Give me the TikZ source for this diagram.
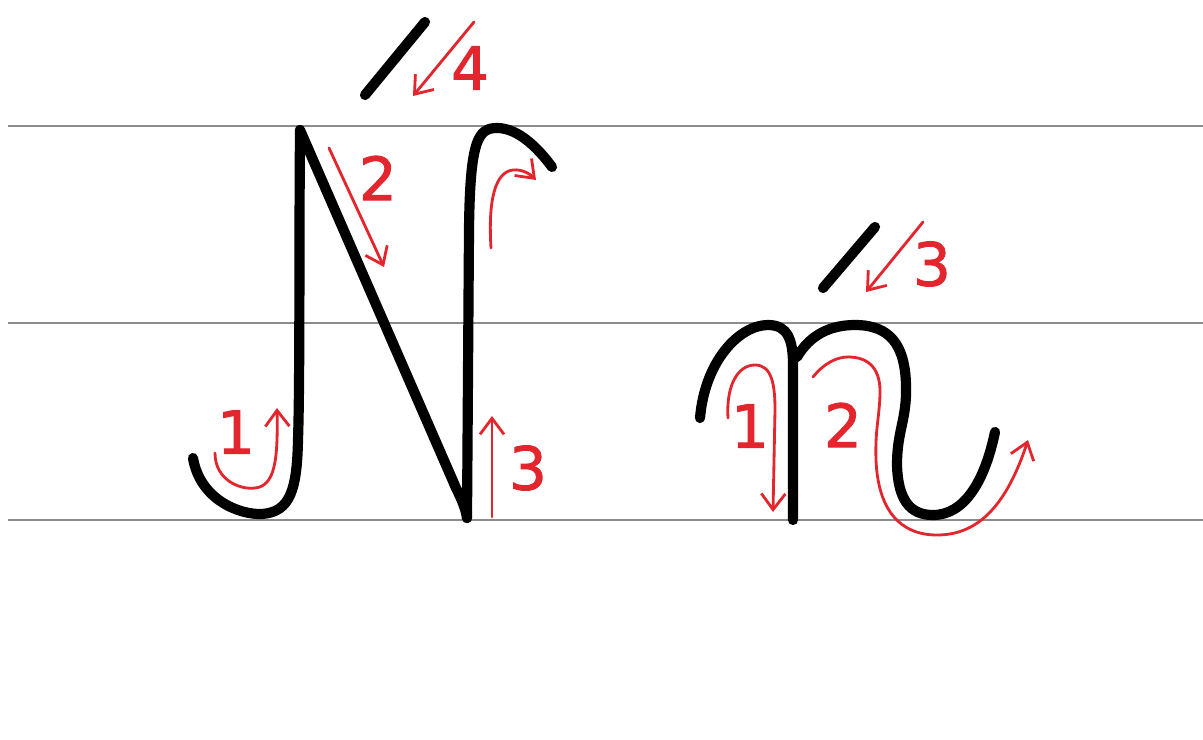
\documentclass[tikz,border=0pt]{standalone}
\usepackage{fontspec}
\setmainfont{DejaVu Sans}
\newfontfamily\digitfont[FakeBold=1.4]{DejaVu Sans}
\usepackage{tikz}
\usetikzlibrary{arrows.meta}
\definecolor{penred}{HTML}{E3262D}
\definecolor{ruleg}{HTML}{8C8C8C}
\tikzset{
  guide/.style={draw=ruleg,line width=0.8pt},
  ink/.style={draw=black,line width=5.8pt,line cap=round,line join=round},
  order/.style={draw=penred,line width=1.6pt,line cap=round,-{Straight Barb[length=3.2mm,width=4.8mm,line width=1.6pt]}},
  num/.style={text=penred,font=\digitfont\fontsize{34}{38}\selectfont,inner sep=0pt},
}
\begin{document}
\begin{tikzpicture}[x=0.02cm,y=-0.02cm]
  \useasboundingbox (0,0) rectangle (1203,740);
  % guide lines
  \foreach \yy in {126,323,520}
    \draw[guide] (8,\yy) -- (1203,\yy);
  % capital N
  \draw[ink] (193,458) .. controls (200,500) and (240,515) .. (262,514)
    .. controls (290,512) and (297,490) .. (298,440)
    .. controls (300,380) and (299,250) .. (300,130);
  \draw[ink] (300,130) -- (456,488) .. controls (462,500) and (466,510) .. (467,518);
  \draw[ink] (467,518) -- (469,230) .. controls (470,140) and (478,128) .. (497,128)
    .. controls (518,128) and (538,148) .. (552,167);
  \draw[ink] (365,95) -- (425,22);
  % order of the strokes
  \draw[order] (215,453) .. controls (215,480) and (240,490) .. (255,488)
    .. controls (275,486) and (278,460) .. (277,408);
  \node[num] (N1) at (236,432) {1};
  \draw[order] (329,148) -- (384,267);
  \node[num] (N2) at (378,178) {2};
  \draw[order] (492,517) -- (492,416);
  \draw[order] (491,248) .. controls (488,200) and (495,172) .. (513,170)
    .. controls (522,169) and (530,174) .. (536,180);
  \node[num] (N3) at (528,468) {3};
  \draw[order] (474,22) -- (413,96);
  \node[num] (N4) at (470,68) {4};
  % small n
  \draw[ink] (700,418) .. controls (705,360) and (740,325) .. (768,325)
    .. controls (788,325) and (793,340) .. (793,365) -- (793,520);
  \draw[ink] (797,357) .. controls (810,335) and (830,325) .. (855,325)
    .. controls (890,325) and (905,345) .. (906,385)
    .. controls (907,420) and (897,430) .. (897,465)
    .. controls (898,500) and (910,515) .. (933,515)
    .. controls (965,515) and (985,480) .. (995,432);
  \draw[ink] (823,288) -- (875,227);
  \draw[order] (728,418) .. controls (726,385) and (738,365) .. (755,365)
    .. controls (772,365) and (775,385) .. (775,410) -- (773,512);
  \node[num] (n1) at (750,426) {1};
  \draw[order] (813,377) .. controls (825,362) and (838,357) .. (848,357)
    .. controls (870,357) and (881,370) .. (880,395)
    .. controls (879,420) and (875,430) .. (876,460)
    .. controls (878,510) and (900,535) .. (937,535)
    .. controls (975,535) and (1005,510) .. (1028,440);
  \node[num] (n2) at (843,425) {2};
  \draw[order] (923,222) -- (866,292);
  \node[num] (n3) at (932,264) {3};
\end{tikzpicture}
\end{document}
